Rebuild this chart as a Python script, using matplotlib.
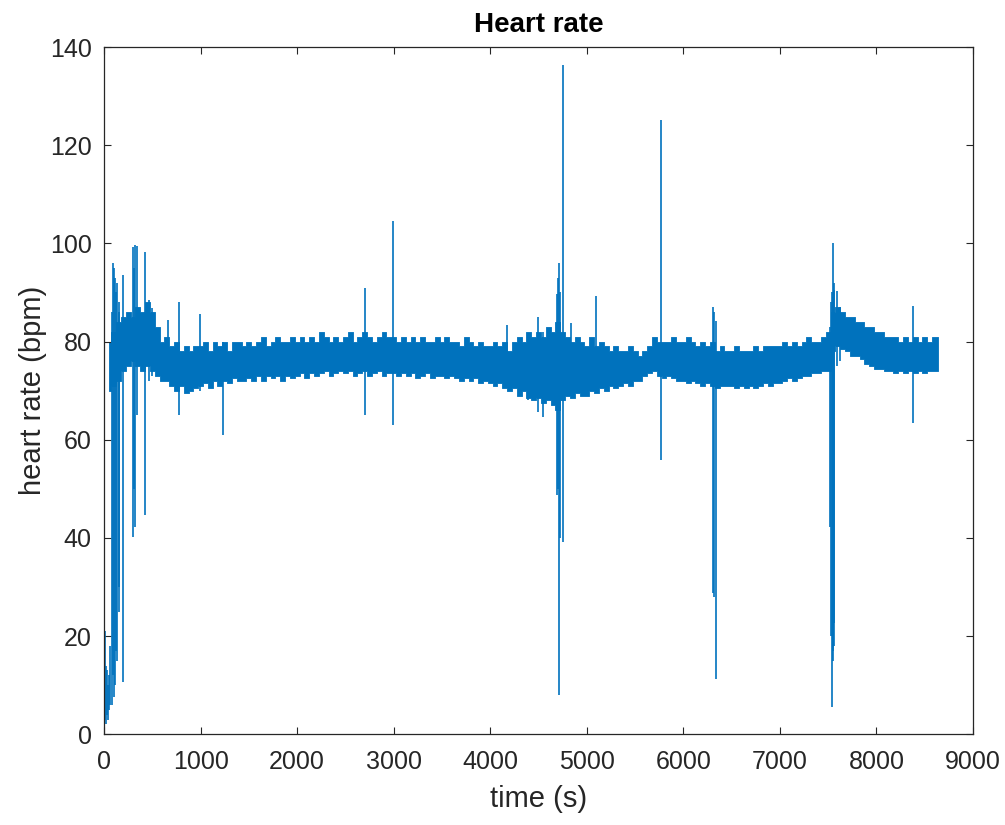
import numpy as np
import matplotlib.pyplot as plt

# heart rate trace (MATLAB style plot)
# the dense noisy band is kept as an upper/lower envelope every 50 s,
# isolated artefacts as vertical spikes (time, low, high)
band_start = 50
band_step = 50

band_upper = [80, 82, 84, 85, 86, 85, 87, 86, 88,
              86, 83, 80, 81, 79, 80, 78, 79, 78, 79,
              79, 80, 78, 80, 79, 80, 78, 80, 80, 79,
              80, 79, 80, 81, 79, 80, 81, 80, 80, 81,
              80, 81, 80, 81, 80, 82, 81, 80, 81, 80,
              81, 82, 80, 81, 82, 81, 80, 81, 82, 81,
              81, 80, 81, 80, 81, 80, 81, 80, 80, 81,
              80, 81, 80, 80, 79, 81, 80, 79, 80, 79,
              79, 80, 79, 80, 78, 80, 81, 80, 82, 81,
              82, 81, 83, 82, 84, 82, 81, 80, 81, 80,
              79, 81, 79, 80, 79, 78, 79, 78, 78, 79,
              78, 77, 78, 79, 81, 80, 80, 80, 81, 80,
              80, 81, 80, 79, 80, 79, 80, 78, 79, 78,
              78, 79, 78, 78, 78, 79, 78, 79, 79, 79,
              79, 80, 79, 80, 79, 80, 81, 80, 80, 81,
              82, 86, 87, 86, 85, 85, 84, 84, 83, 83,
              82, 82, 81, 81, 81, 80, 81, 80, 81, 80,
              81, 80, 81]

band_lower = [70, 71, 72, 74, 75, 76, 75, 74, 75,
              74, 73, 72, 72, 71, 70, 71, 69.5, 70, 70.5,
              71, 71.5, 70.5, 72, 71, 72, 71.5, 72.5, 72, 72,
              72.5, 72, 73, 72, 73, 72.5, 73, 72, 73, 72.5,
              73, 73.5, 72.5, 73.5, 73, 73.5, 74, 73, 73.5, 74,
              73.5, 74, 73, 73.5, 74, 73, 73.5, 74, 73, 73.5,
              73.5, 73, 73.5, 73, 73.5, 72.5, 73, 73.5, 72.5, 73,
              73, 72.5, 73, 72.5, 72, 72.5, 72, 72.5, 71.5, 72,
              71.5, 71, 71.5, 70.5, 70, 70.5, 69, 70, 68.5, 68,
              68.5, 67.5, 68, 67, 66, 68, 69, 68.5, 69.5, 69,
              69, 70, 69.5, 70.5, 70, 71, 70.5, 71, 71.5, 71,
              72, 72, 73, 73.5, 74, 73, 72.5, 73, 72.5, 72,
              72, 71.5, 72, 71.5, 71, 71.5, 71, 70.5, 71, 71,
              71, 70.5, 71, 70.5, 71, 70.5, 71, 71.5, 71, 71.5,
              71.5, 72, 72.5, 72, 72.5, 73, 73, 73.5, 73.5, 74,
              74, 78, 79, 78.5, 78, 77, 77, 76.5, 75.5, 75,
              74.5, 74.5, 74, 74, 73.5, 74, 73.5, 74, 73.5, 74,
              73.5, 74, 74]

spike_t = [0, 8, 18, 28, 40, 52, 62, 80, 95, 105, 115, 125, 135, 150, 160,
           193, 300, 312, 322, 340, 425, 470, 500, 660, 780, 990, 1230,
           2700, 2990, 4170, 4390, 4495, 4550, 4690, 4700, 4712, 4725, 4755,
           4840, 5100, 5768, 6310, 6320, 6335, 7519, 7525, 7536, 7545, 7550,
           7558, 7565, 7590, 7620, 8382]
spike_low = [20, 3, 2, 4, 3, 5, 6, 6, 12, 7.6, 10, 17, 15, 25, 30,
             10.7, 40.2, 50, 42.2, 65, 44.6, 72, 73, 72, 65, 70, 61,
             65, 63, 72, 68, 65.7, 64.7, 48.7, 50, 7.9, 40, 39.1,
             70, 70, 55.9, 28.7, 28, 11.2, 42.2, 20, 5.6, 15, 17,
             18, 22.6, 75, 76, 63.4]
spike_high = [96, 21, 14, 13, 10, 12, 18, 86, 96, 95, 93, 90, 92, 88, 86,
              93.5, 99.3, 95, 99.7, 99.5, 98.3, 88.4, 86.8, 84.4, 88.1, 85.7, 80,
              91, 104.5, 83.3, 81, 85, 82, 89.6, 93, 96, 90, 136.3,
              83.7, 89.3, 125.2, 87, 86, 84.1, 83, 88, 90, 89, 100,
              92, 90.5, 90.2, 87.1, 87.2]

band_end = 8640
blue = '#0072BD'
dark = '#262626'

band_t = band_start + band_step * np.arange(len(band_upper))
band_t = np.append(band_t, band_end)
upper = np.append(band_upper, band_upper[-1])
lower = np.append(band_lower, band_lower[-1])

plt.rcParams['font.family'] = ['Liberation Sans', 'DejaVu Sans']

fig = plt.figure(figsize=(10.05, 8.25), dpi=100)
ax = fig.add_axes([0.1035, 0.110, 0.8647, 0.833])

# solid noisy band, stepped so the edges look like the original's whiskers
ax.fill_between(band_t, lower, upper, step='mid', color=blue, lw=0.6)
ax.vlines(spike_t, spike_low, spike_high, color=blue, lw=1.2)

ax.set_xlim(0, 9000)
ax.set_ylim(0, 140)
ax.set_xticks(np.arange(0, 9001, 1000))
ax.set_yticks(np.arange(0, 141, 20))
ax.tick_params(direction='in', length=5, width=0.8, colors=dark,
               labelsize=18, top=True, right=True)
ax.tick_params(axis='x', pad=11)
ax.tick_params(axis='y', pad=9)
for s in ax.spines.values():
    s.set_color(dark)
    s.set_linewidth(0.9)

ax.set_title('Heart rate', fontsize=20, fontweight='bold', pad=11)
ax.set_xlabel('time (s)', fontsize=21, color=dark, labelpad=8)
ax.set_ylabel('heart rate (bpm)', fontsize=21, color=dark, labelpad=2)

fig.savefig('out.png', dpi=100)
